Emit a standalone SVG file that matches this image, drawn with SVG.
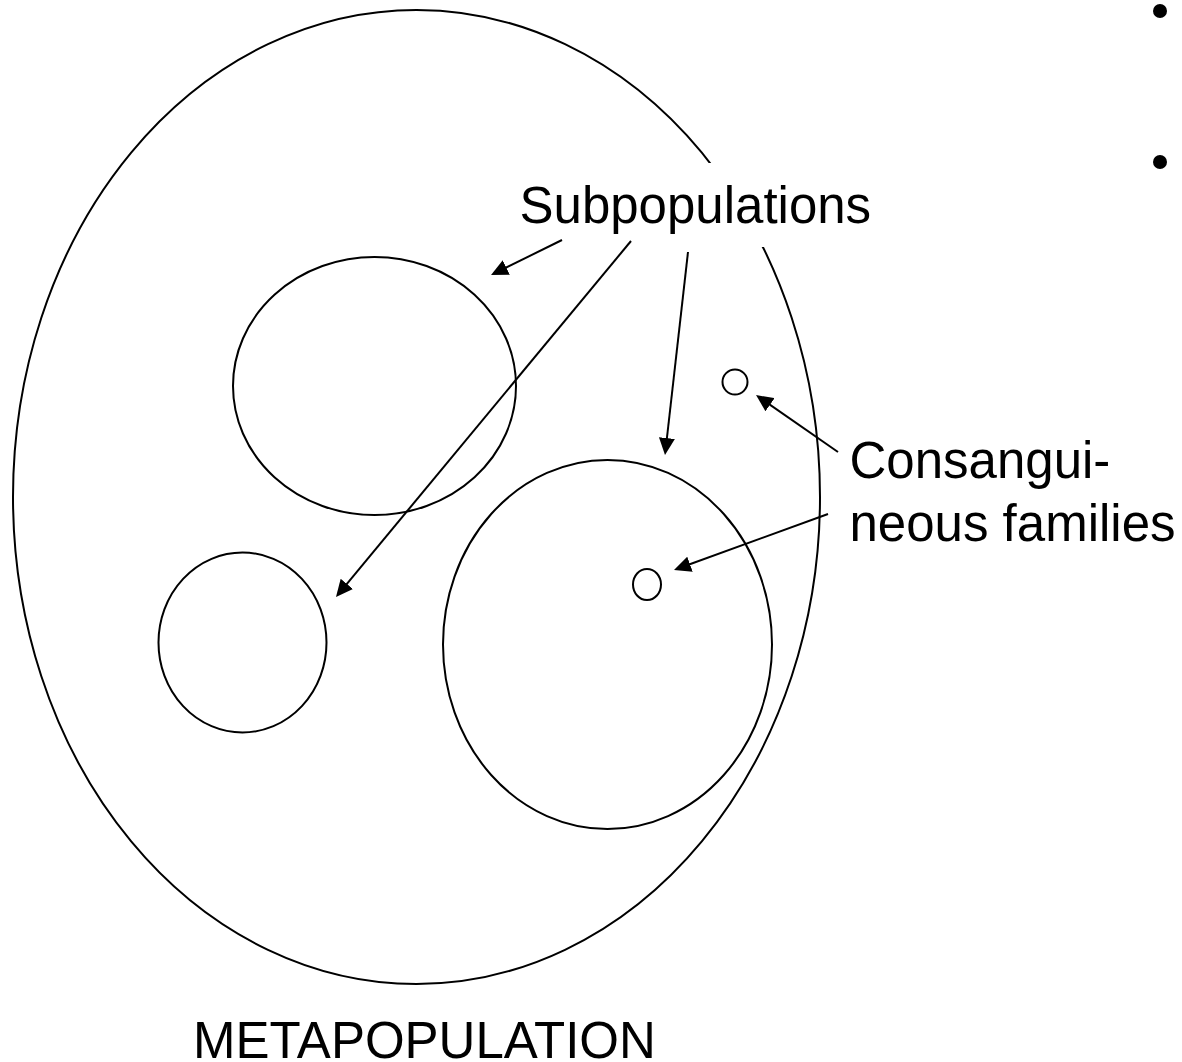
<svg xmlns="http://www.w3.org/2000/svg" width="1182" height="1062" viewBox="0 0 1182 1062">
  <style>
    .outline { fill: none; stroke: #000; stroke-width: 2; }
    .conn { fill: none; stroke: #000; stroke-width: 2; marker-end: url(#ah); }
    .label { font-family: "Liberation Sans", Arial, sans-serif; font-size: 51px; fill: #000; }
  </style>
  <defs>
    <marker id="ah" markerUnits="userSpaceOnUse" markerWidth="18" markerHeight="16" viewBox="0 0 18 16" refX="9" refY="8" orient="auto">
      <path d="M0,0 L17,8 L0,16 z" fill="#000"/>
    </marker>
  </defs>

  <rect width="1182" height="1062" fill="#fff"/>

  <!-- outer metapopulation boundary -->
  <g id="metapopulation">
    <ellipse class="outline" cx="416.5" cy="497" rx="403.5" ry="487"/>
    <text class="label" x="193" y="1058">METAPOPULATION</text>
  </g>

  <!-- subpopulations -->
  <g id="subpop-upper">
    <ellipse class="outline" cx="374.5" cy="386" rx="141.5" ry="129"/>
  </g>
  <g id="subpop-left">
    <ellipse class="outline" cx="242.5" cy="642.5" rx="84" ry="90"/>
  </g>
  <g id="subpop-lower">
    <ellipse class="outline" cx="607.5" cy="644.5" rx="164.5" ry="184.5"/>
  </g>

  <!-- consanguineous families -->
  <g id="family-outer">
    <circle class="outline" cx="735" cy="382" r="12.5"/>
  </g>
  <g id="family-inner">
    <ellipse class="outline" cx="647" cy="584.5" rx="14" ry="15.5"/>
  </g>

  <!-- labels (the white box masks the boundary behind the text) -->
  <g id="label-subpopulations">
    <rect x="505" y="163" width="380" height="84" fill="#fff"/>
    <text class="label" x="519.5" y="223">Subpopulations</text>
  </g>
  <g id="label-families">
    <text class="label" x="849.5" y="478">Consangui-</text>
    <text class="label" x="849.5" y="541">neous families</text>
  </g>

  <!-- bullet points -->
  <g id="bullets" fill="#000">
    <circle cx="1160" cy="11" r="7"/>
    <circle cx="1160" cy="162" r="7"/>
  </g>

  <!-- connectors -->
  <g id="connectors">
    <line class="conn" x1="562" y1="240" x2="498.2" y2="271.5"/>
    <line class="conn" x1="631" y1="241" x2="341.1" y2="590.8"/>
    <line class="conn" x1="688" y1="252" x2="665.9" y2="447"/>
    <line class="conn" x1="838" y1="452" x2="762.6" y2="399.6"/>
    <line class="conn" x1="828" y1="514" x2="681.5" y2="567.3"/>
  </g>
</svg>
